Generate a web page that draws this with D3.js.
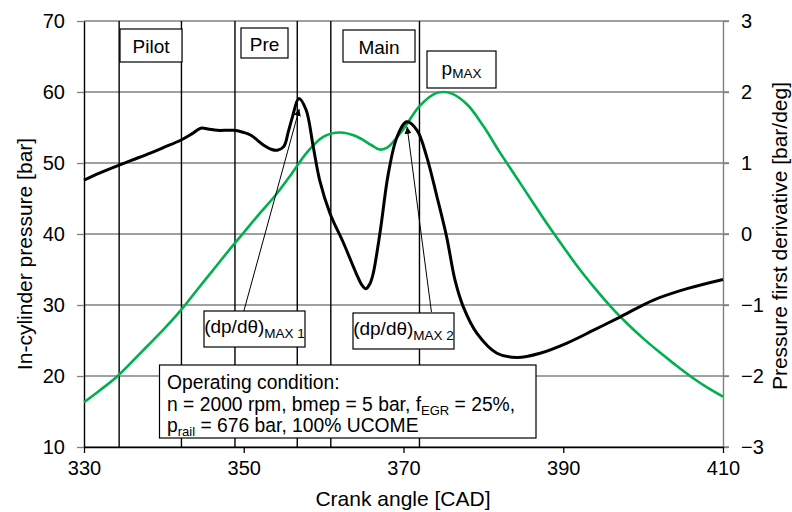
<!DOCTYPE html>
<html>
<head>
<meta charset="utf-8">
<script src="https://cdn.jsdelivr.net/npm/d3@7"></script>
<style>
  body { margin: 0; background: #fff; }
  svg text { font-family: "Liberation Sans", Arial, sans-serif; fill: #000; }
</style>
</head>
<body>
<svg id="chart" width="792" height="512"></svg>
<script>
// axis ticks
const angleTicks = [330, 350, 370, 390, 410];
const pressureTicks = [10, 20, 30, 40, 50, 60, 70];
const derivTicks = [-3, -2, -1, 0, 1, 2, 3];

// vertical marker lines (injection timings) [CAD]
const markerAngles = [334.4, 342.2, 348.9, 356.7, 360.9, 372.0];

// in-cylinder pressure [bar] (green, left axis)
const pressureAngle = [330, 332, 334, 336, 338, 340, 342, 344, 346, 348, 350, 352, 354, 356, 358,
  360, 362, 364, 366, 367, 368, 370, 372, 374, 375, 376, 378, 380, 382, 384, 386, 388, 390,
  392, 394, 396, 398, 400, 402, 404, 406, 408, 410];
const pressure = [16.3, 18.0, 19.8, 22.0, 24.3, 26.6, 29.1, 31.9, 34.7, 37.5, 40.2, 42.9, 45.5, 48.5, 51.6,
  53.7, 54.3, 53.8, 52.5, 51.9, 52.2, 54.8, 58.0, 59.8, 60.0, 59.8, 58.2, 55.2, 51.6, 48.2, 44.8, 41.4, 38.2,
  35.1, 32.3, 29.7, 27.4, 25.3, 23.4, 21.6, 19.9, 18.4, 17.1];

// pressure first derivative [bar/deg] (black, right axis)
const derivAngle = [330, 332, 334.4, 336, 338.3, 340, 342.1, 343.5, 344.6, 345.5, 346.7, 348.8, 350,
  350.9, 352.5, 353.5, 354.2, 355.0, 355.6, 356.1, 356.9, 357.8, 358.7, 359.5, 360.8, 362.5, 364.1,
  364.8, 365.3, 365.8, 366.2, 367.1, 368.1, 369.2, 370.4, 371.7, 372.9, 374.2, 375.4, 376.45, 377.5,
  379.2, 381.7, 384.2, 387.1, 390.4, 393.8, 397.1, 401.3, 405.5, 410];
const deriv = [0.76, 0.86, 0.97, 1.04, 1.14, 1.22, 1.32, 1.41, 1.49, 1.48, 1.46, 1.46, 1.43,
  1.39, 1.25, 1.19, 1.18, 1.23, 1.45, 1.65, 1.91, 1.75, 1.23, 0.76, 0.29, -0.13, -0.56,
  -0.72, -0.77, -0.70, -0.56, 0.05, 0.85, 1.37, 1.58, 1.46, 1.09, 0.52, -0.04, -0.65, -1.03,
  -1.40, -1.68, -1.74, -1.68, -1.54, -1.355, -1.17, -0.93, -0.77, -0.64];

const svg = d3.select("#chart");
const plotL = 84, plotR = 723, plotT = 21, plotB = 447;

const x = d3.scaleLinear().domain([330, 410]).range([plotL, plotR]);
const yP = d3.scaleLinear().domain([10, 70]).range([plotB, plotT]);
const yD = d3.scaleLinear().domain([-3, 3]).range([plotB, plotT]);

// horizontal gridlines
svg.append("g")
  .selectAll("line")
  .data(pressureTicks)
  .join("line")
    .attr("x1", plotL).attr("x2", plotR + 6)
    .attr("y1", d => yP(d)).attr("y2", d => yP(d))
    .attr("stroke", "#808080").attr("stroke-width", 1.3);

// vertical marker lines
svg.append("g")
  .selectAll("line")
  .data(markerAngles)
  .join("line")
    .attr("x1", d => x(d)).attr("x2", d => x(d))
    .attr("y1", plotT).attr("y2", plotB)
    .attr("stroke", "#000").attr("stroke-width", 1.4);

// axes
const leftAxis = svg.append("g")
  .attr("transform", `translate(${plotL},0)`)
  .call(d3.axisLeft(yP).tickValues(pressureTicks).tickSize(7).tickPadding(12).tickSizeOuter(0));
const rightAxis = svg.append("g")
  .attr("transform", `translate(${plotR},0)`)
  .call(d3.axisRight(yD).tickValues(derivTicks).tickFormat(d3.format("d"))
    .tickSize(6).tickPadding(12).tickSizeOuter(0));
const bottomAxis = svg.append("g")
  .attr("transform", `translate(0,${plotB})`)
  .call(d3.axisBottom(x).tickValues(angleTicks).tickSize(6).tickPadding(8).tickSizeOuter(0));

[leftAxis, rightAxis, bottomAxis].forEach(a => {
  a.attr("font-family", null).attr("font-size", null);
  a.selectAll("text").style("font-size", "20px").attr("fill", "#000");
  a.selectAll(".tick line").attr("stroke", "#808080").attr("stroke-width", 1.3);
});
leftAxis.select(".domain").attr("stroke", "#000").attr("stroke-width", 1.4);
bottomAxis.select(".domain").attr("stroke", "#000").attr("stroke-width", 1.4);
rightAxis.select(".domain").attr("stroke", "#808080").attr("stroke-width", 1.4);
bottomAxis.selectAll(".tick line").attr("stroke", "#000");

// curves
const pLine = d3.line()
  .x((d, i) => x(pressureAngle[i]))
  .y(d => yP(d))
  .curve(d3.curveCatmullRom.alpha(0.5));
const dLine = d3.line()
  .x((d, i) => x(derivAngle[i]))
  .y(d => yD(d))
  .curve(d3.curveCatmullRom.alpha(0.5));

svg.append("path")
  .attr("d", pLine(pressure))
  .attr("fill", "none").attr("stroke", "#00b04f").attr("stroke-width", 2.6);
svg.append("path")
  .attr("d", dLine(deriv))
  .attr("fill", "none").attr("stroke", "#000").attr("stroke-width", 3)
  .attr("stroke-linejoin", "round");

// arrows from labels to the derivative peaks
svg.append("defs").append("marker")
  .attr("id", "head")
  .attr("viewBox", "0 0 10 10")
  .attr("refX", 10).attr("refY", 5)
  .attr("markerWidth", 7).attr("markerHeight", 7)
  .attr("markerUnits", "userSpaceOnUse")
  .attr("orient", "auto")
  .append("path").attr("d", "M0,0L10,5L0,10z").attr("fill", "#000");

const arrows = [
  { from: [350.0, 29.1], to: [356.95, 1.76] },
  { from: [373.5, 29.0], to: [370.45, 1.51] }
];
svg.append("g")
  .selectAll("line")
  .data(arrows)
  .join("line")
    .attr("x1", d => x(d.from[0])).attr("y1", d => yP(d.from[1]))
    .attr("x2", d => x(d.to[0])).attr("y2", d => yD(d.to[1]))
    .attr("stroke", "#000").attr("stroke-width", 1)
    .attr("marker-end", "url(#head)");

// label boxes
function box(x0, y0, w, h) {
  svg.append("rect")
    .attr("x", x0).attr("y", y0).attr("width", w).attr("height", h)
    .attr("fill", "#fff").attr("stroke", "#000").attr("stroke-width", 1.2);
}
function label(cx, by, main, sub, shift) {
  const t = svg.append("text")
    .attr("x", cx).attr("y", by)
    .attr("text-anchor", "middle")
    .style("font-size", "19px");
  t.append("tspan").text(main);
  if (sub) t.append("tspan").attr("dy", shift).style("font-size", "13.5px").text(sub);
}

box(120, 29, 62, 33);  label(151, 53, "Pilot");
box(241, 28, 47, 30);  label(264.5, 51, "Pre");
box(343, 30, 72, 32);  label(379, 54, "Main");
box(427, 51, 69, 37);  label(461.5, 75, "p", "MAX", 2.5);
box(204, 311, 101, 36); label(254.5, 333, "(dp/dθ)", "MAX 1", 5);
box(353, 313, 101, 36); label(403.5, 335, "(dp/dθ)", "MAX 2", 5);

// operating condition box
box(159.5, 365, 376.5, 73);
const op = svg.append("g").style("font-size", "19.3px");
op.append("text").attr("x", 167).attr("y", 388.5).text("Operating condition:");
const l2 = op.append("text").attr("x", 167).attr("y", 410.5);
l2.append("tspan").text("n = 2000 rpm, bmep = 5 bar, f");
l2.append("tspan").attr("dy", 4).style("font-size", "13px").text("EGR");
l2.append("tspan").attr("dy", -4).text(" = 25%,");
const l3 = op.append("text").attr("x", 167).attr("y", 431.5);
l3.append("tspan").text("p");
l3.append("tspan").attr("dy", 4).style("font-size", "13px").text("rail");
l3.append("tspan").attr("dy", -4).text(" = 676 bar, 100% UCOME");

// axis titles
svg.append("text")
  .attr("transform", `translate(32,254) rotate(-90)`)
  .attr("text-anchor", "middle")
  .style("font-size", "21px")
  .text("In-cylinder pressure [bar]");
svg.append("text")
  .attr("transform", `translate(787,236) rotate(-90)`)
  .attr("text-anchor", "middle")
  .style("font-size", "21px")
  .text("Pressure first derivative [bar/deg]");
svg.append("text")
  .attr("x", 403).attr("y", 506)
  .attr("text-anchor", "middle")
  .style("font-size", "21px")
  .text("Crank angle [CAD]");
</script>
</body>
</html>
